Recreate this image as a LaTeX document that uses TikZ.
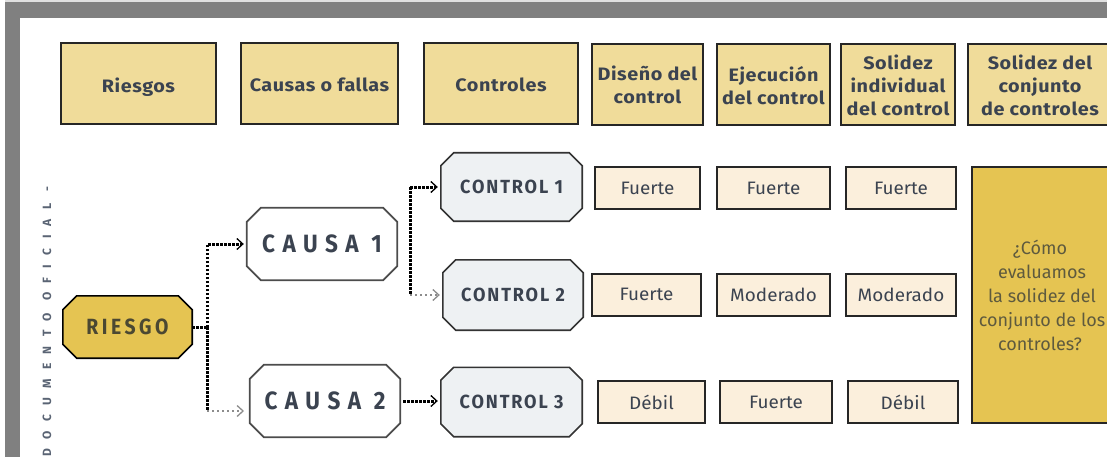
\documentclass[tikz,border=0pt]{standalone}
\usepackage{fontspec}
\setmainfont{Fira Sans}
\newfontfamily\hdrfont[LetterSpace=3,FakeStretch=1.1]{Fira Sans}
\newfontfamily\ratefont[FakeStretch=1.05]{Fira Sans}
\newfontfamily\causafont[LetterSpace=30,FakeStretch=0.9]{Fira Sans}
\newfontfamily\ctrlfont[LetterSpace=10,FakeStretch=0.95]{Fira Sans}
\newfontfamily\riesgofont[LetterSpace=16,FakeStretch=0.88]{Fira Sans}
\newfontfamily\vertfont[LetterSpace=78]{Fira Sans}
\usetikzlibrary{arrows.meta,backgrounds}
\definecolor{framegray}{HTML}{808080}
\definecolor{hdrfill}{HTML}{F0DC9A}
\definecolor{gold}{HTML}{E5C452}
\definecolor{cream}{HTML}{FBEFDC}
\definecolor{ctrlfill}{HTML}{EEF1F3}
\definecolor{textc}{HTML}{3B4350}
\definecolor{olivetext}{HTML}{5E5A3E}
\definecolor{verttext}{HTML}{5A6474}
\newcommand{\octbox}[3]{%
  \begin{scope}[on background layer]
  \draw[#3] ([xshift=#2]#1.north west) -- ([xshift=-#2]#1.north east) -- ([yshift=-#2]#1.north east) -- ([yshift=#2]#1.south east) -- ([xshift=-#2]#1.south east) -- ([xshift=#2]#1.south west) -- ([yshift=#2]#1.south west) -- ([yshift=-#2]#1.north west) -- cycle;
  \end{scope}}
\tikzset{
  hdr/.style={draw=black!85, line width=2pt, fill=hdrfill, inner sep=0pt, align=center,
    minimum height=81pt, font=\hdrfont\bfseries\fontsize{18}{23}\selectfont, text=textc,
    text depth=0pt},
  rate/.style={draw=black!85, line width=2pt, fill=cream, inner sep=0pt, minimum height=42pt,
    font=\ratefont\fontsize{18}{22}\selectfont, text=textc},
  octn/.style={draw=none, inner sep=0pt},
  dotc/.style={draw=black, line width=3pt, dash pattern=on 2.5pt off 1.5pt},
  dotlight/.style={draw=black!45, line width=2.2pt, dash pattern=on 2pt off 3pt},
  >={Straight Barb[length=6pt,width=11pt,line width=1.3pt]},
}
\begin{document}
\begin{tikzpicture}[x=1pt,y=-1pt]
\useasboundingbox (0,0) rectangle (1107,457);
\fill[black!12] (5,0) rectangle (1107,2);
\fill[framegray] (5,2) rectangle (1107,18);
\fill[framegray] (5,2) rectangle (20,457);

\node[rotate=90, anchor=west, inner sep=0pt, text=verttext, font=\vertfont\bfseries\fontsize{12}{12}\selectfont] (vt) at (47,457) {DOCUMENTO OFICIAL -};

% headers
\node[hdr, minimum width=155pt] (h1) at (138.5,83.5) {\raisebox{-3pt}{Riesgos}};
\node[hdr, minimum width=157pt] (h2) at (319.5,83.5) {\raisebox{-3pt}{Causas o fallas}};
\node[hdr, minimum width=154pt] (h3) at (501,83.5) {\raisebox{-3pt}{Controles}};
\node[hdr, minimum width=111pt] (h4) at (647.5,85) {Diseño del\\control};
\node[hdr, minimum width=113pt] (h5) at (773.5,85) {Ejecución\\del control};
\node[hdr, minimum width=114pt] (h6) at (898,85) {Solidez\\individual\\del control};
\node[hdr, minimum width=144pt] (h7) at (1040,85) {Solidez del\\conjunto\\de controles};

% octagon nodes
\node[octn, minimum width=129pt, minimum height=62pt, text=olivetext!80!black, font=\riesgofont\bfseries\fontsize{22}{22}\selectfont] (riesgo) at (127.5,327) {RIESGO};
\octbox{riesgo}{14pt}{fill=gold, draw=black, line width=1.6pt}
\node[octn, minimum width=150pt, minimum height=72pt, text=textc, font=\causafont\bfseries\fontsize{25}{25}\selectfont] (causa1) at (322,244) {CAUSA 1};
\octbox{causa1}{14pt}{fill=white, draw=black!70, line width=1.8pt}
\node[octn, minimum width=150pt, minimum height=72pt, text=textc, font=\causafont\bfseries\fontsize{25}{25}\selectfont] (causa2) at (325,401) {CAUSA 2};
\octbox{causa2}{14pt}{fill=white, draw=black!70, line width=1.8pt}
\node[octn, minimum width=141pt, minimum height=68pt, text=textc, font=\ctrlfont\bfseries\fontsize{19}{19}\selectfont] (control1) at (511.5,187) {CONTROL 1};
\octbox{control1}{13pt}{fill=ctrlfill, draw=black!80, line width=1.6pt}
\node[octn, minimum width=140pt, minimum height=70pt, text=textc, font=\ctrlfont\bfseries\fontsize{19}{19}\selectfont] (control2) at (513,295) {CONTROL 2};
\octbox{control2}{13pt}{fill=ctrlfill, draw=black!80, line width=1.6pt}
\node[octn, minimum width=141pt, minimum height=69pt, text=textc, font=\ctrlfont\bfseries\fontsize{19}{19}\selectfont] (control3) at (511.5,402) {CONTROL 3};
\octbox{control3}{13pt}{fill=ctrlfill, draw=black!80, line width=1.6pt}

% ratings
\node[rate, minimum width=105pt] (r11) at (647.5,188) {Fuerte};
\node[rate, minimum width=113pt] (r12) at (773.5,188) {Fuerte};
\node[rate, minimum width=110pt] (r13) at (901,188) {Fuerte};
\node[rate, minimum width=109pt] (r21) at (646.5,294.5) {Fuerte};
\node[rate, minimum width=113pt] (r22) at (773.5,294.5) {Moderado};
\node[rate, minimum width=110pt] (r23) at (901,294.5) {Moderado};
\node[rate, minimum width=107pt] (r31) at (651.5,402) {Débil};
\node[rate, minimum width=112pt] (r32) at (776,402) {Fuerte};
\node[rate, minimum width=110pt] (r33) at (903,402) {Débil};

\node[draw=black!85, line width=2pt, fill=gold, minimum width=140pt, minimum height=256pt, inner sep=0pt,
  align=center, text=olivetext, font=\fontsize{18}{24}\selectfont] (q) at (1042,295)
  {\hspace*{-4pt}¿Cómo\\evaluamos\\la solidez del\\conjunto de los\\controles?\hspace*{4pt}};

% connectors
\coordinate (j1) at (207,327);
\coordinate (c2a) at (244,411);
\draw[dotc] (riesgo.east) -- (j1);
\draw[dotc, ->, shorten >=3pt] (j1) |- (causa1.west);
\draw[dotc] (j1) -- (j1 |- c2a);
\draw[dotlight, ->] (j1 |- c2a) -- (c2a);

\coordinate (k1) at (410,187);
\coordinate (k2) at (410,295);
\draw[dotc] (k1) -- (k2);
\draw[dotc, ->, shorten >=3pt] (k1) -- (control1.west);
\draw[dotlight, ->, shorten >=3pt] (k2) -- (control2.west);
\draw[dotc, ->, shorten >=3pt] ([xshift=3pt]causa2.east) -- (causa2.east -| control3.west);
\end{tikzpicture}
\end{document}
